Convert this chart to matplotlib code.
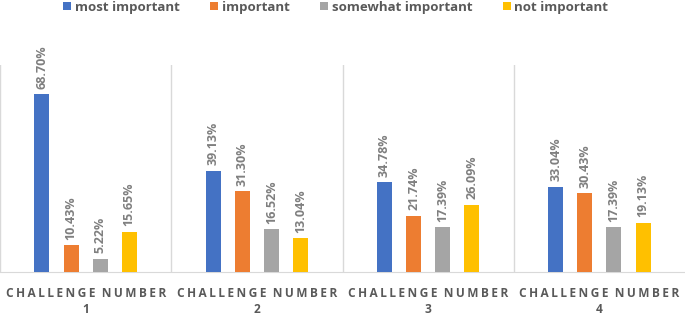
import matplotlib.pyplot as plt
import numpy as np

plt.rcParams['font.family'] = ['Open Sans', 'DejaVu Sans']

challenges = ['1', '2', '3', '4']
series = ['most important', 'important', 'somewhat important', 'not important']
most_important = [68.70, 39.13, 34.78, 33.04]
important = [10.43, 31.30, 21.74, 30.43]
somewhat_important = [5.22, 16.52, 17.39, 17.39]
not_important = [15.65, 13.04, 26.09, 19.13]
colors = ['#4472c4', '#ed7d31', '#a5a5a5', '#ffc000']

values = [most_important, important, somewhat_important, not_important]

fig = plt.figure(figsize=(6.85, 3.16), dpi=100)
ax = fig.add_axes([0.0, 0.139, 1.0, 0.655])

x = np.arange(len(challenges))
w = 0.088
step = 0.17
for i, (name, vals) in enumerate(zip(series, values)):
    pos = x + (i - 1.5) * step
    bars = ax.bar(pos, vals, w, color=colors[i], label=name, zorder=3)
    for b, v in zip(bars, vals):
        ax.annotate(f'{v:.2f}%', (b.get_x() + b.get_width() / 2, v),
                    xytext=(0, 4), textcoords='offset points',
                    rotation=90, ha='center', va='bottom',
                    fontsize=9, fontweight='bold', color='#7f7f7f')

ax.set_xlim(-0.5, 3.5)
ax.set_ylim(0, 80)
for sep in [-0.5, 0.5, 1.5, 2.5]:
    ax.axvline(sep, color='#d9d9d9', lw=1, zorder=1)
for s in ['top', 'right', 'left']:
    ax.spines[s].set_visible(False)
ax.spines['bottom'].set_color('#d9d9d9')
ax.set_yticks([])
ax.set_xticks(x)
label = '\u2009'.join('CHALLENGE') + '  ' + '\u2009'.join('NUMBER')
ax.set_xticklabels([f'{label}\n{c}' for c in challenges],
                   fontsize=8.6, fontweight='bold', color='#595959',
                   linespacing=1.3)
ax.tick_params(axis='x', length=0, pad=11)

fig.legend(loc='upper center', ncol=4, frameon=False,
           handlelength=0.6, handleheight=0.6, handletextpad=0.3,
           columnspacing=2.3, bbox_to_anchor=(0.49, 1.035),
           labelcolor='#595959', prop={'weight': 'bold', 'size': 9.5})

fig.savefig('out.png', dpi=100)
